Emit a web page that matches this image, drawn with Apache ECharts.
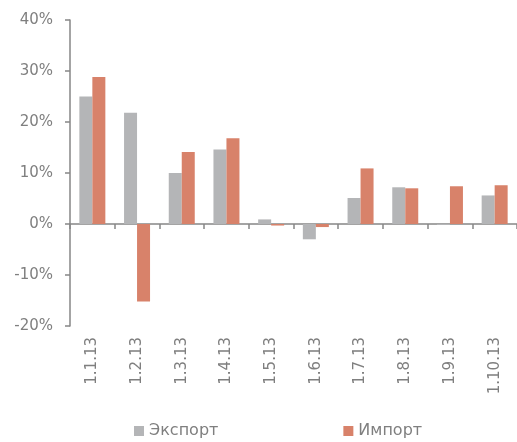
<!DOCTYPE html>
<html>
<head>
<meta charset="utf-8">
<script src="https://cdn.jsdelivr.net/npm/echarts@6/dist/echarts.min.js"></script>
<style>html,body{margin:0;padding:0;background:#fff}#c{width:517px;height:442px}</style>
</head>
<body>
<div id="c"></div>
<script>
var categories = ['1.1.13','1.2.13','1.3.13','1.4.13','1.5.13','1.6.13','1.7.13','1.8.13','1.9.13','1.10.13'];
var exportVals = [25.0, 21.8, 10.0, 14.6, 0.9, -3.0, 5.1, 7.2, -0.2, 5.6];
var importVals = [28.8, -15.2, 14.1, 16.8, -0.3, -0.6, 10.9, 7.0, 7.4, 7.6];
var seriesNames = ['Экспорт', 'Импорт'];
var yTicks = {min: -20, max: 40, interval: 10};

var font = 'DejaVu Sans';
var textColor = '#7f7f7f';
var axisColor = '#868686';
var chart = echarts.init(document.getElementById('c'), null, {renderer: 'canvas'});
chart.setOption({
  animation: false,
  backgroundColor: '#ffffff',
  grid: {left: 70, top: 20, width: 452, bottom: 116, containLabel: false},
  legend: {
    left: 129, top: 418,
    itemWidth: 10, itemHeight: 10, itemGap: 125,
    icon: 'rect',
    textStyle: {fontFamily: font, fontSize: 16, color: textColor},
    data: seriesNames
  },
  xAxis: [{
    type: 'category', data: categories, position: 'bottom',
    axisLine: {show: false, onZero: false}, axisTick: {show: false},
    axisLabel: {rotate: 90, margin: 11, fontFamily: font, fontSize: 15, color: textColor, interval: 0}
  }, {
    type: 'category', data: categories, position: 'bottom',
    axisLine: {show: true, onZero: true, lineStyle: {color: axisColor, width: 1.5}},
    axisTick: {show: true, inside: false, interval: 0, length: 5, lineStyle: {color: axisColor, width: 1.5}},
    axisLabel: {show: false, interval: 0}
  }],
  yAxis: {
    type: 'value', min: yTicks.min, max: yTicks.max, interval: yTicks.interval,
    axisLine: {show: true, lineStyle: {color: axisColor, width: 1.5}},
    axisTick: {show: true, length: 5, lineStyle: {color: axisColor, width: 1.5}},
    splitLine: {show: false},
    axisLabel: {formatter: '{value}%', margin: 17, fontFamily: font, fontSize: 15, color: textColor}
  },
  series: [{
    name: seriesNames[0], type: 'bar', data: exportVals, xAxisIndex: 0,
    barWidth: 13, barGap: '0%', itemStyle: {color: '#b4b5b7'}
  }, {
    name: seriesNames[1], type: 'bar', data: importVals, xAxisIndex: 0,
    barWidth: 13, barGap: '0%', itemStyle: {color: '#d8826a'}
  }]
});
</script>
</body>
</html>
